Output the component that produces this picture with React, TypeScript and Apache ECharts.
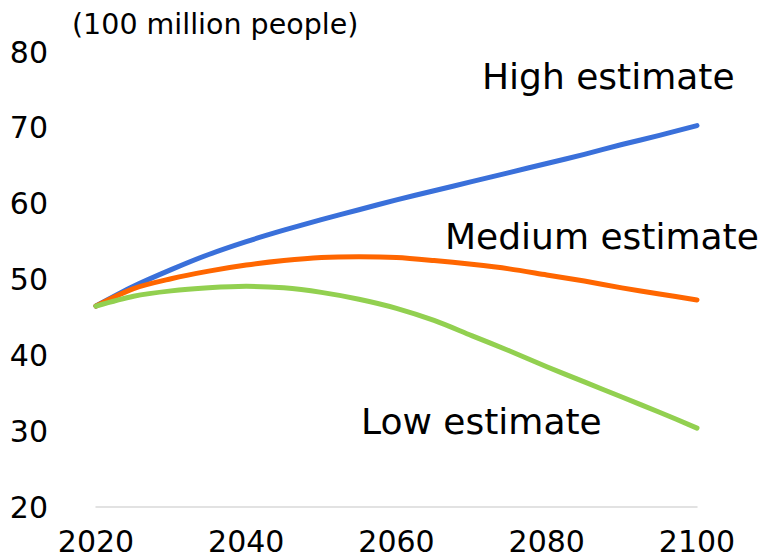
import React, { useEffect, useRef } from "react";
import * as echarts from "echarts";

// World population projections, in units of 100 million people
const years = [
  2020, 2025, 2030, 2035, 2040, 2045, 2050, 2055, 2060,
  2065, 2070, 2075, 2080, 2085, 2090, 2095, 2100,
];
const highEstimate = [
  46.5, 49.1, 51.3, 53.3, 55.0, 56.5, 57.9, 59.2, 60.5,
  61.7, 62.9, 64.1, 65.3, 66.5, 67.8, 69.0, 70.3,
];
const mediumEstimate = [
  46.5, 48.8, 50.1, 51.1, 51.9, 52.5, 52.9, 53.0, 52.9,
  52.5, 52.0, 51.4, 50.6, 49.8, 48.9, 48.1, 47.3,
];
const lowEstimate = [
  46.5, 47.8, 48.5, 48.9, 49.1, 48.9, 48.3, 47.4, 46.2,
  44.6, 42.6, 40.6, 38.5, 36.5, 34.5, 32.5, 30.4,
];

const yTicks = { min: 20, max: 80, interval: 10 };
const xTicks = { min: 2020, max: 2100, interval: 20 };

const unitLabel = "(100 million people)";
const seriesLabels = ["High estimate", "Medium estimate", "Low estimate"];

const FONT = "'DejaVu Sans', Verdana, sans-serif";

export default function App() {
  const ref = useRef<HTMLDivElement>(null);

  useEffect(() => {
    if (!ref.current) return;
    const chart = echarts.init(ref.current, undefined, { renderer: "svg" });

    const pairs = (vals: number[]) => years.map((y, i) => [y, vals[i]]);
    const lineSeries = (name: string, vals: number[], color: string) => ({
      type: "line",
      name,
      data: pairs(vals),
      smooth: 0.3,
      showSymbol: false,
      symbol: "none",
      lineStyle: { color, width: 5, cap: "round", join: "round" },
    });

    const seriesText = (text: string, x: number, y: number) => ({
      type: "text",
      x,
      y,
      style: {
        text,
        fontSize: 36,
        fontFamily: FONT,
        fill: "#000",
        verticalAlign: "middle",
      },
    });

    chart.setOption({
      animation: false,
      backgroundColor: "#ffffff",
      grid: { left: 96, right: 62, top: 52, bottom: 51 },
      xAxis: {
        type: "value",
        min: xTicks.min,
        max: xTicks.max,
        interval: xTicks.interval,
        axisLine: { show: true, lineStyle: { color: "#d9d9d9", width: 1.5 } },
        axisTick: { show: false },
        splitLine: { show: false },
        axisLabel: {
          color: "#000",
          fontSize: 30,
          fontFamily: FONT,
          margin: 19,
          formatter: (v: number) => String(v),
        },
      },
      yAxis: {
        type: "value",
        min: yTicks.min,
        max: yTicks.max,
        interval: yTicks.interval,
        axisLine: { show: false },
        axisTick: { show: false },
        splitLine: { show: false },
        axisLabel: {
          color: "#000",
          fontSize: 30,
          fontFamily: FONT,
          margin: 48,
        },
      },
      series: [
        lineSeries(seriesLabels[0], highEstimate, "#3a70da"),
        lineSeries(seriesLabels[1], mediumEstimate, "#ff6600"),
        lineSeries(seriesLabels[2], lowEstimate, "#92d050"),
      ],
      graphic: [
        {
          type: "text",
          left: 72,
          top: 10,
          style: { text: unitLabel, fontSize: 28.5, fontFamily: FONT, fill: "#000" },
        },
        seriesText(seriesLabels[0], 482, 76),
        seriesText(seriesLabels[1], 445, 236),
        seriesText(seriesLabels[2], 361, 421),
      ],
    });

    return () => chart.dispose();
  }, []);

  return (
    <div
      ref={ref}
      style={{ position: "fixed", left: 0, top: 0, width: 759, height: 558 }}
    />
  );
}
